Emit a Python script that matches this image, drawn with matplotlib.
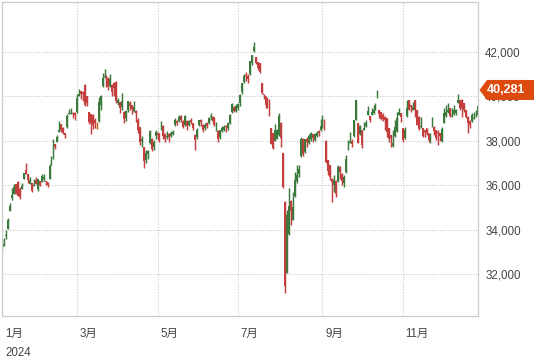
import matplotlib
matplotlib.use("Agg")
import matplotlib.pyplot as plt
from matplotlib.patches import Polygon
import numpy as np

# Daily candles, (open, high, low, close), one list per month of 2024
jan = [(33190, 33570, 33100, 33290), (33260, 33630, 33250, 33380), (33700, 34000, 33580, 33760),
       (34050, 34520, 34020, 34440), (34850, 35220, 34840, 35050), (35450, 35870, 35350, 35580),
       (35620, 36040, 35590, 35900), (36040, 36050, 35620, 35620), (36150, 36200, 35520, 35530),
       (35850, 35900, 35400, 35470), (35830, 36120, 35820, 35960), (36280, 36570, 36270, 36550),
       (36700, 37020, 36490, 36520), (36490, 36500, 36120, 36230), (36060, 36350, 36040, 36240),
       (36100, 36120, 35700, 35750), (35970, 36270, 35960, 36030), (36250, 36350, 36040, 36070),
       (35850, 36290, 35750, 36290)]
feb = [(36190, 36200, 35970, 36010), (36160, 36500, 36150, 36420), (36300, 36500, 36200, 36350),
       (36200, 36210, 36000, 36160), (36130, 36140, 35900, 36000), (36280, 36950, 36270, 36860),
       (36950, 37320, 36900, 37250), (37250, 38070, 37200, 37960), (37840, 37850, 37610, 37700),
       (37950, 38250, 37940, 38160), (38400, 38890, 38390, 38490), (38740, 38750, 38390, 38470),
       (38590, 38600, 38290, 38360), (38370, 38370, 38140, 38260), (38600, 39190, 38590, 39100),
       (39200, 39420, 39190, 39230), (39200, 39450, 39190, 39240), (39260, 39270, 39040, 39210),
       (39260, 39270, 38920, 39170)]
mar = [(39270, 40090, 39260, 39910), (40020, 40320, 40000, 40110), (40240, 40250, 39870, 40100),
       (40200, 40240, 39790, 40090), (40500, 40540, 39570, 39600), (39990, 40000, 39550, 39690),
       (39280, 39290, 38740, 38820), (39190, 39200, 38290, 38800), (39150, 39200, 38520, 38700),
       (38950, 39000, 38550, 38810), (38700, 38830, 38520, 38700), (38880, 39980, 38860, 39740),
       (39600, 40050, 39400, 40000), (40450, 41060, 40420, 40820), (40850, 41230, 40800, 40890),
       (40900, 40950, 40400, 40410), (40800, 40850, 40300, 40400), (40450, 40980, 40400, 40760),
       (40500, 40560, 39990, 40170), (40600, 40620, 39990, 40370)]
apr = [(40650, 40700, 39700, 39800), (39700, 39900, 39600, 39840), (39750, 39750, 39250, 39450),
       (39500, 40150, 39400, 39770), (39300, 39320, 38780, 38990), (39000, 39400, 38900, 39350),
       (39400, 39780, 39300, 39770), (39700, 39800, 39400, 39580), (39600, 39620, 39200, 39440),
       (39350, 39800, 39300, 39520), (39350, 39400, 38850, 39230), (38950, 39020, 38350, 38470),
       (38600, 38620, 37800, 37960), (38000, 38200, 37700, 38080), (37700, 37720, 36780, 37070),
       (37150, 37600, 37000, 37440), (37400, 37600, 37200, 37550), (37900, 38500, 37850, 38460),
       (38100, 38120, 37550, 37630), (37700, 38050, 37600, 37930), (38200, 38500, 38100, 38410)]
may = [(38350, 38400, 38050, 38270), (38300, 38350, 37950, 38240), (38600, 38870, 38500, 38840),
       (38650, 38700, 38100, 38200), (38300, 38350, 37950, 38070), (38150, 38450, 38100, 38230),
       (38300, 38350, 37950, 38180), (38200, 38450, 38150, 38360), (38300, 38500, 38250, 38390),
       (38700, 39000, 38650, 38920), (38900, 38950, 38700, 38790), (38900, 39150, 38850, 39070),
       (39100, 39150, 38850, 38950), (38900, 38950, 38550, 38620), (38700, 39150, 38650, 39100),
       (38900, 38950, 38500, 38650), (38700, 38950, 38650, 38900), (38950, 39000, 38750, 38860),
       (38800, 38800, 38500, 38560), (38250, 38300, 37600, 38050), (38150, 38550, 38100, 38490)]
jun = [(38700, 38950, 38650, 38920), (38950, 38980, 38650, 38840), (38700, 38750, 38400, 38490),
       (38550, 38800, 38500, 38700), (38800, 38850, 38550, 38680), (38800, 39050, 38750, 39040),
       (39050, 39250, 38950, 39130), (39050, 39100, 38750, 38880), (39000, 39050, 38650, 38720),
       (38600, 38850, 38450, 38810), (38450, 38500, 37950, 38100), (38150, 38500, 38100, 38480),
       (38450, 38650, 38400, 38570), (38500, 38700, 38450, 38630), (38650, 38700, 38400, 38600),
       (38550, 38850, 38500, 38800), (38800, 39200, 38750, 39170), (39300, 39700, 39250, 39670),
       (39500, 39550, 39300, 39340), (39350, 39650, 39300, 39580)]
jul = [(39450, 39700, 39400, 39630), (39700, 40100, 39550, 40070), (40200, 40600, 40100, 40580),
       (40650, 41000, 40600, 40910), (40950, 41100, 40700, 40910), (40900, 41000, 40600, 40780),
       (41000, 41600, 40950, 41580), (41500, 41850, 41400, 41830), (42050, 42430, 42000, 42220),
       (41750, 41760, 41450, 41480), (41540, 41550, 41180, 41280), (41480, 41490, 41040, 41100),
       (40600, 40600, 40090, 40130), (40100, 40100, 39870, 40060), (40000, 40010, 39490, 39600),
       (39930, 39940, 39490, 39590), (39850, 39860, 39120, 39150), (38580, 38590, 37850, 37870),
       (38350, 38370, 37620, 37670), (38000, 38740, 38000, 38470), (38100, 38520, 38070, 38500),
       (38250, 39260, 38220, 39100)]
aug = [(38800, 38820, 37700, 38130), (37450, 37460, 35870, 35910), (35240, 35300, 31150, 31460),
       (32050, 34900, 32050, 34680), (33800, 35870, 33760, 35090), (35300, 35320, 34210, 34830),
       (34450, 35700, 34440, 35030), (35500, 36590, 35470, 36230), (36200, 36900, 36100, 36440),
       (36500, 36900, 36350, 36730), (37300, 38170, 37270, 38060), (38100, 38130, 37300, 37390),
       (37500, 38100, 37450, 38060), (38100, 38150, 37700, 37950), (37900, 38300, 37850, 38210),
       (38100, 38400, 38000, 38360), (38300, 38320, 37950, 38110), (38050, 38350, 38000, 38290),
       (38200, 38450, 38150, 38370), (38450, 38480, 38200, 38360), (38500, 38980, 38450, 38650)]
sep = [(38600, 39150, 38570, 38700), (38930, 38960, 38500, 38690), (38000, 38030, 37000, 37050),
       (37130, 37140, 36460, 36660), (36900, 36910, 36240, 36390), (36300, 36310, 35250, 36160),
       (36000, 36460, 35700, 36220), (36200, 36240, 35490, 35620), (36200, 36910, 36160, 36830),
       (36800, 36850, 36300, 36580), (36500, 36550, 36000, 36200), (36100, 36450, 35900, 36380),
       (36600, 37360, 36540, 37160), (37700, 38030, 37600, 37720), (37900, 38410, 37880, 37940),
       (38000, 38100, 37700, 37870), (38200, 38930, 38180, 38930), (38950, 39830, 38930, 39830),
       (38800, 38800, 37890, 37920)]
oct_ = [(38300, 38710, 38260, 38650), (38480, 38490, 37660, 37810), (38490, 38860, 38480, 38550),
        (38650, 38930, 38630, 38800), (39160, 39560, 39150, 39330), (39110, 39120, 38850, 38940),
        (39160, 39460, 39150, 39280), (39230, 39610, 39220, 39380), (39380, 39710, 39370, 39610),
        (39920, 40300, 39900, 40200), (39380, 39390, 39000, 39180), (39300, 39310, 38930, 38960),
        (39150, 39250, 38900, 38980), (39080, 39090, 38480, 38950), (39000, 39010, 38180, 38410),
        (38550, 38560, 37960, 38100), (38260, 38270, 37730, 38140), (37750, 38480, 37730, 37910),
        (38200, 38930, 38180, 38600), (38420, 39310, 38400, 39030), (39160, 39460, 39150, 39280),
        (39230, 39240, 38850, 39080)]
nov = [(38560, 38570, 37950, 38050), (38110, 38630, 38100, 38470), (39090, 39830, 39080, 39480),
       (39830, 39840, 39380, 39380), (39600, 39620, 39300, 39500), (39380, 39750, 39370, 39530),
       (39830, 39840, 39080, 39380), (39380, 39390, 38700, 38720), (39080, 39090, 38500, 38540),
       (38600, 39080, 38550, 38640), (38560, 38570, 38180, 38220), (38480, 38500, 38180, 38410),
       (38560, 38570, 38250, 38350), (38330, 38340, 37960, 38030), (38100, 38350, 37900, 38280),
       (38650, 39080, 38630, 38780), (38630, 38640, 38250, 38440), (38480, 38490, 38030, 38130),
       (38400, 38480, 37800, 38350), (38330, 38340, 38000, 38210)]
dec = [(38000, 38630, 37960, 38510), (38800, 39460, 38780, 39250), (39100, 39610, 39080, 39280),
       (39300, 39680, 39250, 39400), (39460, 39470, 39080, 39090), (39100, 39480, 39050, 39160),
       (39200, 39600, 39150, 39370), (39250, 39420, 39150, 39370), (39700, 40090, 39680, 39850),
       (39830, 39840, 39380, 39470), (39850, 39860, 39080, 39460), (39680, 39690, 39300, 39360),
       (39380, 39390, 39000, 39080), (39080, 39090, 38330, 38810), (38900, 38910, 38550, 38700),
       (38900, 39230, 38850, 39160), (38980, 39310, 38960, 39040), (39100, 39380, 39050, 39130),
       (39150, 39610, 39130, 39570), (39680, 40400, 39670, 40281)]

month_labels = ["1月", "3月", "5月", "7月", "9月", "11月"]
year_label = "2024"
y_ticks = [32000, 34000, 36000, 38000, 40000, 42000]

UP = "#3a7a3c"
DOWN = "#c43e3e"
FLAT = "#c0661a"
TAG = "#dc4a0e"
GRID = "#c8c8c8"
FONT = ["Liberation Sans", "Noto Sans CJK JP"]

by_month = [jan, feb, mar, apr, may, jun, jul, aug, sep, oct_, nov, dec]
bars = np.array([b for m in by_month for b in m], dtype=float)
o, h, l, c = bars.T
x = np.arange(len(bars))
first_day = np.cumsum([0] + [len(m) for m in by_month])[:-1]
tick_x = first_day[::2]

cols = np.where(c > o, UP, np.where(c < o, DOWN, FLAT))

fig = plt.figure(figsize=(5.4, 3.63), dpi=100)
ax = fig.add_axes([1.7 / 540, 1 - 316 / 363, 476.6 / 540, 313.7 / 363])
ax.set_xlim(-0.35, 242.35)
ax.set_ylim(30127, 44219)

# grid
ax.set_yticks(y_ticks)
ax.set_xticks(tick_x)
ax.grid(True, color=GRID, linestyle=(0, (1, 1.5)), linewidth=0.75)
ax.set_axisbelow(True)
for s in ax.spines.values():
    s.set_color("#cccccc")
    s.set_linewidth(0.9)

# candles, drawn almost solid like the reference
ax.vlines(x, l, h, colors=cols, linewidth=1.05)
ax.bar(x, np.maximum(np.abs(c - o), 20), bottom=np.minimum(o, c), width=0.95,
       color=cols, linewidth=0)

# y labels on the right
ax.yaxis.tick_right()
ax.set_yticklabels(["{:,}".format(v) for v in y_ticks], fontfamily=FONT)
ax.tick_params(axis="y", length=0, pad=5, labelsize=8.3, labelcolor="#444444")
ax.tick_params(axis="x", length=0, labelbottom=False)

# month labels, left aligned next to the gridline
for tx, lab in zip(tick_x, month_labels):
    ax.annotate(lab, xy=(tx, 0), xycoords=("data", "axes fraction"),
                xytext=(1.9, -12.8), textcoords="offset points",
                ha="left", va="center", fontsize=8.3, color="#444444",
                fontfamily=FONT)
ax.annotate(year_label, xy=(tick_x[0], 0), xycoords=("data", "axes fraction"),
            xytext=(1.9, -26.6), textcoords="offset points",
            ha="left", va="center", fontsize=8.3, color="#444444", fontfamily=FONT)

# last price tag
last = c[-1]
yf = ax.transData.transform((0, last))[1] / fig.bbox.height
hh = 10 / 363
tag = Polygon([(479.5 / 540, yf), (487 / 540, yf + hh), (534 / 540, yf + hh),
               (534 / 540, yf - hh), (487 / 540, yf - hh)],
              closed=True, transform=fig.transFigure, facecolor=TAG,
              edgecolor="none", zorder=5)
fig.patches.append(tag)
fig.text(506 / 540, yf, "{:,.0f}".format(last), color="white", fontweight="bold",
         ha="center", va="center", fontsize=9, fontfamily=FONT, zorder=6)

fig.savefig("out.png", dpi=100)
